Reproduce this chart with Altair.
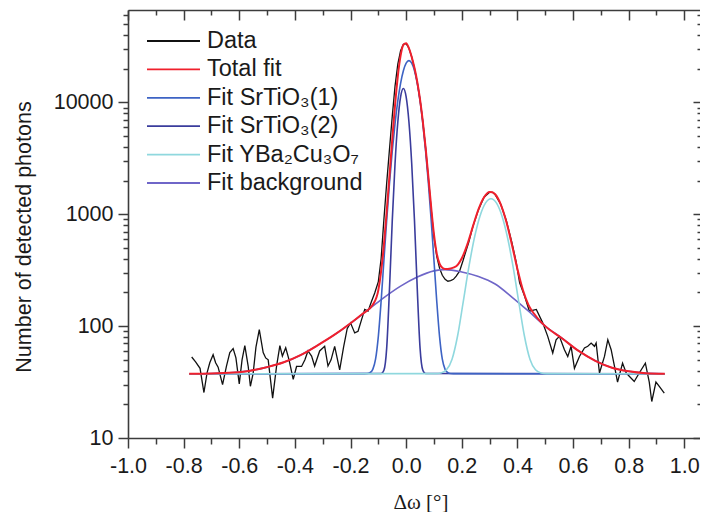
import altair as alt
import pandas as pd

# ---------------- data ----------------
data_x = [-0.771, -0.757, -0.741, -0.727, -0.716, -0.706, -0.694, -0.685, -0.676, -0.660,
          -0.646, -0.634, -0.622, -0.612, -0.600, -0.590, -0.580, -0.568, -0.560, -0.550,
          -0.540, -0.528, -0.514, -0.505, -0.496, -0.480, -0.466, -0.454, -0.445, -0.433,
          -0.421, -0.406, -0.394, -0.376, -0.364, -0.353, -0.340, -0.329, -0.311, -0.293,
          -0.281, -0.270, -0.257, -0.239, -0.225, -0.212, -0.200, -0.185, -0.173, -0.160,
          -0.149, -0.137, -0.125, -0.113, -0.100, -0.090, -0.080, -0.070, -0.060, -0.050,
          -0.040, -0.030, -0.020, -0.010, 0.000, 0.010, 0.020, 0.030, 0.040, 0.050,
          0.060, 0.070, 0.080, 0.090, 0.100, 0.110, 0.120, 0.130, 0.140, 0.150,
          0.160, 0.170, 0.180, 0.192, 0.204, 0.215, 0.225, 0.240, 0.260, 0.280,
          0.300, 0.310, 0.320, 0.340, 0.360, 0.380, 0.395, 0.408, 0.426, 0.443,
          0.468, 0.491, 0.509, 0.527, 0.539, 0.551, 0.569, 0.581, 0.593, 0.605,
          0.623, 0.641, 0.653, 0.665, 0.677, 0.683, 0.695, 0.713, 0.725, 0.737,
          0.749, 0.760, 0.778, 0.791, 0.803, 0.820, 0.838, 0.860, 0.874, 0.883,
          0.898, 0.910, 0.928]
data_y = [53, 48, 42, 25.5, 38, 47, 55.5, 47, 43, 30,
          44, 58, 63, 52, 30.5, 50, 67, 44, 29, 38,
          65, 93, 58, 52, 50, 22.7, 43.6, 67, 54, 64,
          50, 33.5, 43.6, 43.6, 50, 60, 54, 44, 60, 66,
          44, 50, 66, 40.7, 65, 95, 107, 87, 90, 115,
          141, 136, 165, 198, 250, 400, 900, 1900, 3800, 7500,
          14000, 22000, 29000, 33000, 33500, 30500, 25500, 20000, 15000, 10500,
          6700, 3900, 2100, 1100, 620, 420, 330, 285, 262, 252,
          255, 262, 280, 310, 382, 470, 560, 780, 1100, 1420,
          1570, 1570, 1500, 1230, 880, 560, 380, 244, 185, 136,
          141, 107, 81, 57.5, 75.6, 81, 61.6, 53.6, 66, 42,
          53.6, 63.8, 66, 70.6, 66, 70.6, 38.1, 53.6, 75.6, 61.6,
          43.6, 31.6, 46.7, 38.1, 35.5, 32, 38.1, 46.7, 31.6, 21.2,
          31.6, 28.9, 25.2]

total_x = [-0.78, -0.70, -0.62, -0.56, -0.50, -0.44, -0.38, -0.32, -0.26, -0.20,
           -0.16, -0.12, -0.10, -0.08, -0.07, -0.06, -0.05, -0.04, -0.03, -0.02,
           -0.01, 0.00, 0.01, 0.02, 0.03, 0.04, 0.05, 0.06, 0.07, 0.08,
           0.09, 0.10, 0.11, 0.12, 0.13, 0.14, 0.16, 0.18, 0.20, 0.22,
           0.24, 0.26, 0.28, 0.30, 0.31, 0.32, 0.34, 0.36, 0.38, 0.40,
           0.42, 0.44, 0.46, 0.48, 0.50, 0.56, 0.62, 0.68, 0.74, 0.80,
           0.86, 0.93]
total_y = [37.5, 37.7, 38.5, 40, 43, 47.5, 55, 67, 83, 106,
           127, 155, 210, 532, 1059, 2216, 4665, 9438, 17122, 26158,
           32661, 33794, 30489, 25454, 20266, 15230, 10573, 6724, 3924, 2147,
           1152, 661, 445, 362, 332, 324, 328, 343, 404, 539,
           779, 1108, 1421, 1582, 1577, 1509, 1225, 860, 537, 324,
           209, 154, 129, 112, 100, 78, 60, 49, 42.5, 39.5,
           38, 37.5]

sto1_x = [-0.78, -0.15, -0.14, -0.13, -0.12, -0.11, -0.10, -0.09, -0.08, -0.07,
          -0.06, -0.05, -0.04, -0.03, -0.02, -0.01, 0.00, 0.01, 0.02, 0.03,
          0.04, 0.05, 0.06, 0.07, 0.08, 0.09, 0.10, 0.11, 0.12, 0.13,
          0.14, 0.15, 0.16, 0.17, 0.93]
sto1_y = [37.5, 37.6, 37.7, 38.4, 41.1, 50.6, 81, 167, 386, 883,
          1883, 3665, 6470, 10300, 14820, 19200, 22437, 23637, 22437, 19200,
          14820, 10300, 6470, 3665, 1883, 883, 386, 167, 81, 50.6,
          41.1, 38.4, 37.7, 37.6, 37.5]

sto2_x = [-0.78, -0.09, -0.08, -0.07, -0.06, -0.05, -0.04, -0.03, -0.02, -0.01,
          0.00, 0.01, 0.02, 0.03, 0.04, 0.05, 0.06, 0.07, 0.93]
sto2_y = [37.5, 37.7, 40.3, 63.6, 213, 870, 2832, 6675, 11190, 13300,
          11190, 6675, 2832, 870, 213, 63.6, 40.3, 37.7, 37.5]

ybco_x = [-0.78, 0.105, 0.125, 0.145, 0.165, 0.185, 0.205, 0.225, 0.245, 0.265,
          0.285, 0.305, 0.325, 0.345, 0.365, 0.385, 0.405, 0.425, 0.445, 0.465,
          0.485, 0.505, 0.93]
ybco_y = [37.5, 37.6, 38.1, 40.7, 50.6, 82, 164, 333, 610, 956,
          1257, 1377, 1257, 956, 610, 333, 164, 82, 50.6, 40.7,
          38.1, 37.6, 37.5]

bg_x = [-0.78, -0.70, -0.62, -0.56, -0.50, -0.44, -0.38, -0.32, -0.26, -0.20,
        -0.14, -0.08, -0.02, 0.04, 0.10, 0.14, 0.20, 0.26, 0.32, 0.38,
        0.44, 0.50, 0.56, 0.62, 0.68, 0.74, 0.80, 0.86, 0.93]
bg_y = [37.5, 37.7, 38.5, 40, 43, 47.5, 55, 67, 83, 106,
        138, 180, 228, 275, 312, 320, 305, 278, 238, 182,
        136, 100, 78, 60, 49, 42.5, 39.5, 38, 37.5]

legend_labels = ["Data", "Total fit", "Fit SrTiO₃(1)", "Fit SrTiO₃(2)",
                 "Fit YBa₂Cu₃O₇", "Fit background"]
legend_colors = ["#111111", "#f0202c", "#3d63c4", "#3a3c9c", "#8fd8de", "#6f66c8"]

x_major_vals = [-1.0, -0.8, -0.6, -0.4, -0.2, 0.0, 0.2, 0.4, 0.6, 0.8, 1.0]
x_minor_vals = [-0.9, -0.7, -0.5, -0.3, -0.1, 0.1, 0.3, 0.5, 0.7, 0.9]
y_major_vals = [10, 100, 1000, 10000]
y_minor_vals = [20, 30, 40, 50, 60, 70, 80, 90,
                200, 300, 400, 500, 600, 700, 800, 900,
                2000, 3000, 4000, 5000, 6000, 7000, 8000, 9000,
                20000, 30000, 40000, 50000, 60000]

# ---------------- styling ----------------
FONT = "Liberation Sans"
AXC = "#3c3c3c"
W, H = 572, 428

xscale = alt.Scale(domain=[-1.0, 1.0564], nice=False, zero=False)
yscale = alt.Scale(type="log", domain=[10, 67000], nice=False)


def ax(**kw):
    base = dict(grid=False, domainColor=AXC, tickColor=AXC, domainWidth=1.6,
                tickWidth=1.5, labelFont=FONT, titleFont=FONT, labelFlush=False,
                labelOverlap=False, labelBound=False)
    base.update(kw)
    return alt.Axis(**base)


x_major = ax(orient="bottom", values=x_major_vals, tickSize=10, labelFontSize=21.5,
             labelColor="#1a1a1a", labelPadding=24, labelBaseline="alphabetic",
             labelExpr="(datum.value < 0 ? '-' : '') + format(abs(datum.value), '.1f')",
             title="Δω [°]", titleFont="Liberation Serif", titleFontSize=21,
             titleFontWeight="normal", titleColor="#1a1a1a", titleX=292.5, titleY=70,
             titleAlign="center", titleBaseline="alphabetic")
x_minor = ax(orient="bottom", values=x_minor_vals, tickSize=6, labels=False,
             domain=False, title="")
x_top_major = ax(orient="bottom", offset=-H, values=x_major_vals, tickSize=10,
                 labels=False, title="")
x_top_minor = ax(orient="bottom", offset=-H, values=x_minor_vals, tickSize=5,
                 labels=False, domain=False, title="")

y_major = ax(orient="left", values=y_major_vals, tickSize=10, labelFontSize=21.5,
             labelColor="#1a1a1a", labelPadding=5, format="d",
             title="Number of detected photons", titleFontSize=21.5,
             titleFontWeight="normal", titleColor="#1a1a1a", titleAngle=270,
             titleX=-98, titleY=226.5, titleAlign="center", titleBaseline="alphabetic")
y_minor = ax(orient="left", values=y_minor_vals, tickSize=5, labels=False,
             domain=False, title="")
y_right_major = ax(orient="left", offset=-W, values=y_major_vals, tickSize=7,
                   labels=False, domain=False, title="")
y_right_minor = ax(orient="left", offset=-W, values=y_minor_vals, tickSize=3,
                   labels=False, domain=False, title="")


def curve(xs, ys, color, width, smooth, axis_x=None, axis_y=None):
    df = pd.DataFrame({"x": xs, "y": ys})
    mark = alt.Chart(df).mark_line(color=color, strokeWidth=width,
                                   interpolate="monotone" if smooth else "linear")
    return mark.encode(
        x=alt.X("x:Q", scale=xscale, axis=axis_x),
        y=alt.Y("y:Q", scale=yscale, axis=axis_y),
    )


data_layer = curve(data_x, data_y, legend_colors[0], 1.3, False, x_major, y_major)
bg_layer = curve(bg_x, bg_y, legend_colors[5], 1.6, True, x_minor, y_minor)
sto2_layer = curve(sto2_x, sto2_y, legend_colors[3], 1.6, True, x_top_major, y_right_major)
sto1_layer = curve(sto1_x, sto1_y, legend_colors[2], 1.6, True, x_top_minor, y_right_minor)
ybco_layer = curve(ybco_x, ybco_y, legend_colors[4], 1.6, True)
total_layer = curve(total_x, total_y, legend_colors[1], 2.0, True)

plot = alt.layer(data_layer, bg_layer, sto2_layer, sto1_layer, ybco_layer,
                 total_layer).resolve_axis(x="independent", y="independent")

# ---------------- legend (inside plot, top-left) ----------------
leg_df = pd.DataFrame({"label": legend_labels, "color": legend_colors})
leg_y = alt.Y("label:N", scale=alt.Scale(type="point", domain=legend_labels,
                                         range=[31, 173], padding=0), axis=None)
leg_rules = alt.Chart(leg_df).mark_rule(strokeWidth=1.8).encode(
    x=alt.value(19), x2=alt.value(72), y=leg_y,
    color=alt.Color("label:N", scale=alt.Scale(domain=legend_labels, range=legend_colors),
                    legend=None),
)
leg_text = alt.Chart(leg_df).mark_text(align="left", baseline="middle", font=FONT,
                                       fontSize=23.5, color="#1a1a1a").encode(
    x=alt.value(79), y=leg_y, text="label:N")

chart = alt.layer(plot, leg_rules, leg_text).resolve_scale(y="independent").properties(
    width=W, height=H,
    autosize=alt.AutoSizeParams(type="none"),
    padding={"left": 120, "top": 2, "right": 0, "bottom": 74},
    background="white",
).configure_view(strokeWidth=0)

chart.save("out.html", embed_options={"renderer": "svg", "actions": False})
